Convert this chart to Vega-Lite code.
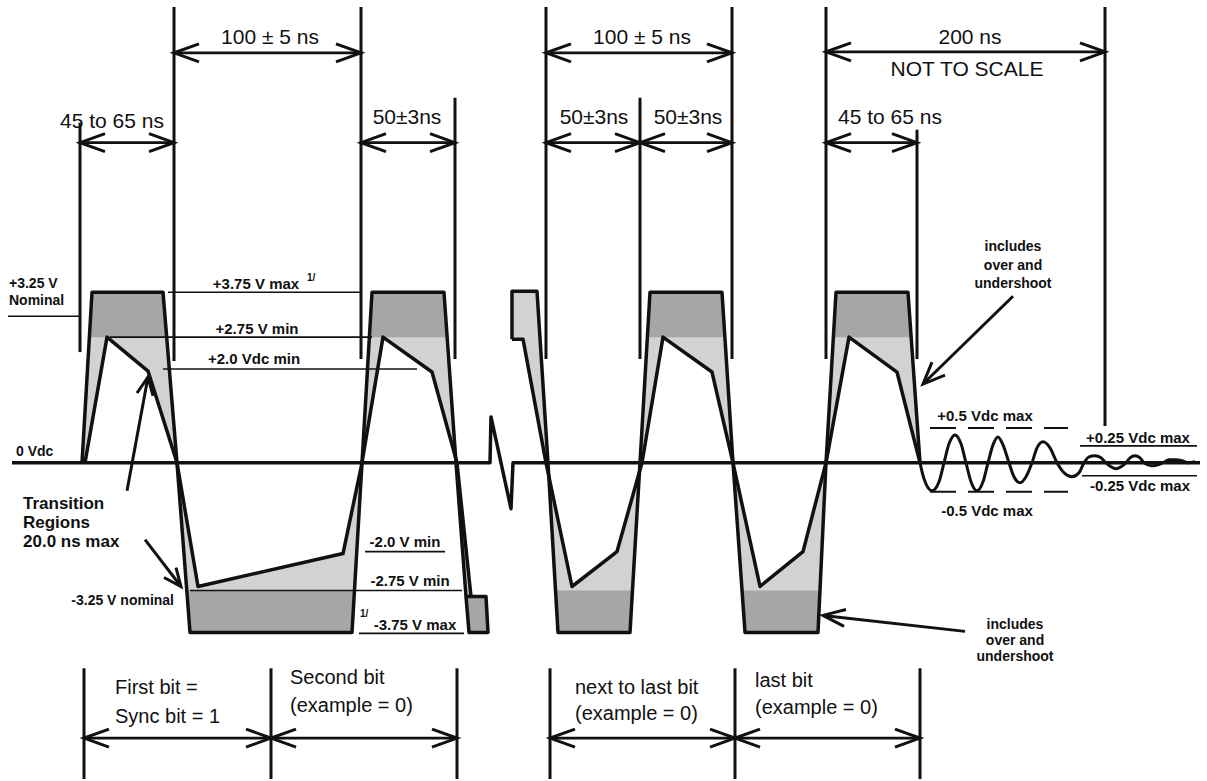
{
"$schema":"https://vega.github.io/schema/vega-lite/v6.json",
"width":1207,"height":781,"padding":0,
"autosize":{"type":"fit","contains":"padding"},
"background":"white",
"config":{"view":{"stroke":null},"text":{"font":"Liberation Sans","color":"#111"}},
"datasets":{
"poly":[
{"id":"L1","o":1,"x":82,"y":464,"tone":"L"},{"id":"L1","o":2,"x":92,"y":293,"tone":"L"},{"id":"L1","o":3,"x":163,"y":293,"tone":"L"},{"id":"L1","o":4,"x":177,"y":464,"tone":"L"},{"id":"L1","o":5,"x":148,"y":372,"tone":"L"},{"id":"L1","o":6,"x":107,"y":338,"tone":"L"},{"id":"L1","o":7,"x":85,"y":464,"tone":"L"},
{"id":"D1","o":1,"x":92,"y":293,"tone":"D"},{"id":"D1","o":2,"x":163,"y":293,"tone":"D"},{"id":"D1","o":3,"x":167,"y":338,"tone":"D"},{"id":"D1","o":4,"x":89,"y":338,"tone":"D"},
{"id":"L2","o":1,"x":177,"y":464,"tone":"L"},{"id":"L2","o":2,"x":190,"y":634,"tone":"L"},{"id":"L2","o":3,"x":352,"y":634,"tone":"L"},{"id":"L2","o":4,"x":362,"y":464,"tone":"L"},{"id":"L2","o":5,"x":343,"y":555,"tone":"L"},{"id":"L2","o":6,"x":198,"y":588,"tone":"L"},
{"id":"D2","o":1,"x":187,"y":592,"tone":"D"},{"id":"D2","o":2,"x":354,"y":592,"tone":"D"},{"id":"D2","o":3,"x":352,"y":634,"tone":"D"},{"id":"D2","o":4,"x":190,"y":634,"tone":"D"},
{"id":"L3","o":1,"x":362,"y":464,"tone":"L"},{"id":"L3","o":2,"x":372,"y":293,"tone":"L"},{"id":"L3","o":3,"x":444,"y":293,"tone":"L"},{"id":"L3","o":4,"x":456,"y":464,"tone":"L"},{"id":"L3","o":5,"x":432,"y":373,"tone":"L"},{"id":"L3","o":6,"x":383,"y":338,"tone":"L"},
{"id":"D3","o":1,"x":372,"y":293,"tone":"D"},{"id":"D3","o":2,"x":444,"y":293,"tone":"D"},{"id":"D3","o":3,"x":447,"y":338,"tone":"D"},{"id":"D3","o":4,"x":369,"y":338,"tone":"D"},
{"id":"LT","o":1,"x":456,"y":464,"tone":"L"},{"id":"LT","o":2,"x":466,"y":598,"tone":"L"},{"id":"LT","o":3,"x":471,"y":598,"tone":"L"},{"id":"LT","o":4,"x":457,"y":464,"tone":"L"},
{"id":"DT","o":1,"x":466,"y":598,"tone":"D"},{"id":"DT","o":2,"x":486,"y":598,"tone":"D"},{"id":"DT","o":3,"x":488,"y":634,"tone":"D"},{"id":"DT","o":4,"x":469,"y":634,"tone":"D"},
{"id":"LS","o":1,"x":512,"y":292,"tone":"L"},{"id":"LS","o":2,"x":537,"y":292,"tone":"L"},{"id":"LS","o":3,"x":548,"y":464,"tone":"L"},{"id":"LS","o":4,"x":546,"y":464,"tone":"L"},{"id":"LS","o":5,"x":523,"y":340,"tone":"L"},{"id":"LS","o":6,"x":512,"y":340,"tone":"L"},
{"id":"L4","o":1,"x":548,"y":464,"tone":"L"},{"id":"L4","o":2,"x":558,"y":634,"tone":"L"},{"id":"L4","o":3,"x":630,"y":634,"tone":"L"},{"id":"L4","o":4,"x":640,"y":464,"tone":"L"},{"id":"L4","o":5,"x":617,"y":553,"tone":"L"},{"id":"L4","o":6,"x":572,"y":588,"tone":"L"},
{"id":"D4","o":1,"x":555,"y":592,"tone":"D"},{"id":"D4","o":2,"x":632,"y":592,"tone":"D"},{"id":"D4","o":3,"x":630,"y":634,"tone":"D"},{"id":"D4","o":4,"x":558,"y":634,"tone":"D"},
{"id":"L5","o":1,"x":640,"y":464,"tone":"L"},{"id":"L5","o":2,"x":650,"y":293,"tone":"L"},{"id":"L5","o":3,"x":722,"y":293,"tone":"L"},{"id":"L5","o":4,"x":733,"y":464,"tone":"L"},{"id":"L5","o":5,"x":712,"y":373,"tone":"L"},{"id":"L5","o":6,"x":663,"y":338,"tone":"L"},
{"id":"D5","o":1,"x":650,"y":293,"tone":"D"},{"id":"D5","o":2,"x":722,"y":293,"tone":"D"},{"id":"D5","o":3,"x":725,"y":338,"tone":"D"},{"id":"D5","o":4,"x":647,"y":338,"tone":"D"},
{"id":"L6","o":1,"x":733,"y":464,"tone":"L"},{"id":"L6","o":2,"x":745,"y":634,"tone":"L"},{"id":"L6","o":3,"x":818,"y":634,"tone":"L"},{"id":"L6","o":4,"x":826,"y":464,"tone":"L"},{"id":"L6","o":5,"x":803,"y":553,"tone":"L"},{"id":"L6","o":6,"x":760,"y":588,"tone":"L"},
{"id":"D6","o":1,"x":742,"y":592,"tone":"D"},{"id":"D6","o":2,"x":820,"y":592,"tone":"D"},{"id":"D6","o":3,"x":818,"y":634,"tone":"D"},{"id":"D6","o":4,"x":745,"y":634,"tone":"D"},
{"id":"L7","o":1,"x":826,"y":464,"tone":"L"},{"id":"L7","o":2,"x":836,"y":293,"tone":"L"},{"id":"L7","o":3,"x":908,"y":293,"tone":"L"},{"id":"L7","o":4,"x":920,"y":464,"tone":"L"},{"id":"L7","o":5,"x":897,"y":373,"tone":"L"},{"id":"L7","o":6,"x":849,"y":338,"tone":"L"},
{"id":"D7","o":1,"x":836,"y":293,"tone":"D"},{"id":"D7","o":2,"x":908,"y":293,"tone":"D"},{"id":"D7","o":3,"x":911,"y":338,"tone":"D"},{"id":"D7","o":4,"x":833,"y":338,"tone":"D"}
],
"wave":[
{"id":"OL","o":1,"x":82,"y":464},{"id":"OL","o":2,"x":92,"y":293},{"id":"OL","o":3,"x":163,"y":293},{"id":"OL","o":4,"x":177,"y":464},{"id":"OL","o":5,"x":190,"y":634},{"id":"OL","o":6,"x":352,"y":634},{"id":"OL","o":7,"x":362,"y":464},{"id":"OL","o":8,"x":372,"y":293},{"id":"OL","o":9,"x":444,"y":293},{"id":"OL","o":10,"x":456,"y":464},{"id":"OL","o":11,"x":466,"y":598},{"id":"OL","o":12,"x":486,"y":598},{"id":"OL","o":13,"x":488,"y":634},{"id":"OL","o":14,"x":469,"y":634},{"id":"OL","o":15,"x":466,"y":598},
{"id":"IL","o":1,"x":85,"y":464},{"id":"IL","o":2,"x":107,"y":338},{"id":"IL","o":3,"x":148,"y":372},{"id":"IL","o":4,"x":177,"y":464},{"id":"IL","o":5,"x":198,"y":588},{"id":"IL","o":6,"x":343,"y":555},{"id":"IL","o":7,"x":362,"y":464},{"id":"IL","o":8,"x":383,"y":338},{"id":"IL","o":9,"x":432,"y":373},{"id":"IL","o":10,"x":457,"y":464},{"id":"IL","o":11,"x":471,"y":598},
{"id":"OR","o":1,"x":512,"y":340},{"id":"OR","o":2,"x":512,"y":292},{"id":"OR","o":3,"x":537,"y":292},{"id":"OR","o":4,"x":548,"y":464},{"id":"OR","o":5,"x":558,"y":634},{"id":"OR","o":6,"x":630,"y":634},{"id":"OR","o":7,"x":640,"y":464},{"id":"OR","o":8,"x":650,"y":293},{"id":"OR","o":9,"x":722,"y":293},{"id":"OR","o":10,"x":733,"y":464},{"id":"OR","o":11,"x":745,"y":634},{"id":"OR","o":12,"x":818,"y":634},{"id":"OR","o":13,"x":826,"y":464},{"id":"OR","o":14,"x":836,"y":293},{"id":"OR","o":15,"x":908,"y":293},{"id":"OR","o":16,"x":920,"y":464},
{"id":"IR","o":1,"x":512,"y":340},{"id":"IR","o":2,"x":523,"y":340},{"id":"IR","o":3,"x":546,"y":464},{"id":"IR","o":4,"x":572,"y":588},{"id":"IR","o":5,"x":617,"y":553},{"id":"IR","o":6,"x":642,"y":464},{"id":"IR","o":7,"x":663,"y":338},{"id":"IR","o":8,"x":712,"y":373},{"id":"IR","o":9,"x":733,"y":464},{"id":"IR","o":10,"x":760,"y":588},{"id":"IR","o":11,"x":803,"y":553},{"id":"IR","o":12,"x":826,"y":464},{"id":"IR","o":13,"x":849,"y":338},{"id":"IR","o":14,"x":897,"y":373},{"id":"IR","o":15,"x":920,"y":464},
{"id":"BL","o":1,"x":12,"y":464},{"id":"BL","o":2,"x":490,"y":464},{"id":"BL","o":3,"x":491,"y":418},{"id":"BL","o":4,"x":511,"y":510},{"id":"BL","o":5,"x":513,"y":464},{"id":"BL","o":6,"x":1200,"y":464}
],
"ring":[
{"o":1,"x":920,"y":464},{"o":2,"x":924,"y":480},{"o":3,"x":932,"y":492},{"o":4,"x":939,"y":483},{"o":5,"x":944,"y":464},{"o":6,"x":949,"y":445},{"o":7,"x":955,"y":436},{"o":8,"x":961,"y":445},{"o":9,"x":966,"y":464},{"o":10,"x":971,"y":483},{"o":11,"x":977,"y":492},{"o":12,"x":983,"y":483},{"o":13,"x":988,"y":464},{"o":14,"x":993,"y":446},{"o":15,"x":998,"y":438},{"o":16,"x":1003,"y":446},{"o":17,"x":1009,"y":464},{"o":18,"x":1014,"y":478},{"o":19,"x":1020,"y":484},{"o":20,"x":1026,"y":478},{"o":21,"x":1032,"y":464},{"o":22,"x":1037,"y":449},{"o":23,"x":1043,"y":443},{"o":24,"x":1050,"y":449},{"o":25,"x":1057,"y":464},{"o":26,"x":1064,"y":474},{"o":27,"x":1072,"y":478},{"o":28,"x":1079,"y":474},{"o":29,"x":1084,"y":464},{"o":30,"x":1089,"y":458},{"o":31,"x":1095,"y":457},{"o":32,"x":1101,"y":459},{"o":33,"x":1106,"y":464},{"o":34,"x":1111,"y":468},{"o":35,"x":1116,"y":470},{"o":36,"x":1121,"y":468},{"o":37,"x":1126,"y":464},{"o":38,"x":1130,"y":459},{"o":39,"x":1135,"y":457},{"o":40,"x":1140,"y":459},{"o":41,"x":1144,"y":464},{"o":42,"x":1148,"y":466},{"o":43,"x":1153,"y":467},{"o":44,"x":1158,"y":466},{"o":45,"x":1163,"y":464},{"o":46,"x":1169,"y":461},{"o":47,"x":1176,"y":461},{"o":48,"x":1182,"y":462},{"o":49,"x":1188,"y":464},{"o":50,"x":1195,"y":463}
],
"ann":[
{"id":"As","o":1,"x":127,"y":492},{"id":"As","o":2,"x":148,"y":378},
{"id":"Ah","o":1,"x":137,"y":394},{"id":"Ah","o":2,"x":148,"y":378},{"id":"Ah","o":3,"x":153,"y":397},
{"id":"Bs","o":1,"x":145,"y":541},{"id":"Bs","o":2,"x":181,"y":588},
{"id":"Bh","o":1,"x":176,"y":569},{"id":"Bh","o":2,"x":181,"y":588},{"id":"Bh","o":3,"x":164,"y":579},
{"id":"Cs","o":1,"x":1013,"y":297},{"id":"Cs","o":2,"x":923,"y":385},
{"id":"Ch","o":1,"x":945,"y":376},{"id":"Ch","o":2,"x":923,"y":385},{"id":"Ch","o":3,"x":932,"y":363},
{"id":"Ds","o":1,"x":965,"y":633},{"id":"Ds","o":2,"x":823,"y":617},
{"id":"Dh","o":1,"x":846,"y":611},{"id":"Dh","o":2,"x":823,"y":617},{"id":"Dh","o":3,"x":844,"y":628}
],
"ext":[
{"x":80,"y":123,"y2":353},{"x":174,"y":7,"y2":362},{"x":361,"y":7,"y2":360},{"x":455,"y":98,"y2":360},{"x":546,"y":7,"y2":360},{"x":640,"y":98,"y2":360},{"x":732,"y":7,"y2":360},{"x":826,"y":7,"y2":360},{"x":917,"y":130,"y2":360},{"x":1105,"y":7,"y2":427},
{"x":84,"y":670,"y2":781},{"x":271,"y":670,"y2":781},{"x":457,"y":670,"y2":781},{"x":550,"y":670,"y2":781},{"x":735,"y":670,"y2":781},{"x":920,"y":670,"y2":781}
],
"lvl":[
{"x":8,"x2":80,"y":317,"k":"s"},{"x":168,"x2":362,"y":293,"k":"s"},{"x":110,"x2":372,"y":338,"k":"s"},{"x":163,"x2":417,"y":370,"k":"s"},{"x":365,"x2":445,"y":553,"k":"s"},{"x":190,"x2":462,"y":592,"k":"s"},{"x":359,"x2":464,"y":635,"k":"s"},{"x":1080,"x2":1197,"y":447,"k":"s"},{"x":1082,"x2":1197,"y":477,"k":"s"},
{"x":930,"x2":1068,"y":429,"k":"d"},{"x":930,"x2":1068,"y":493,"k":"d"}
],
"dim":[
{"x":80,"x2":174,"y":143},{"x":174,"x2":361,"y":53},{"x":361,"x2":455,"y":143},{"x":546,"x2":732,"y":53},{"x":546,"x2":640,"y":143},{"x":640,"x2":732,"y":143},{"x":826,"x2":1105,"y":52},{"x":826,"x2":917,"y":143},
{"x":84,"x2":271,"y":740},{"x":271,"x2":457,"y":740},{"x":550,"x2":735,"y":740},{"x":735,"x2":920,"y":740}
],
"txt":[
{"t":"100 ± 5 ns","x":270,"y":38,"k":"dim"},{"t":"45 to 65 ns","x":112,"y":122,"k":"dim"},{"t":"50±3ns","x":407,"y":118,"k":"dim"},{"t":"100 ± 5 ns","x":642,"y":38,"k":"dim"},{"t":"50±3ns","x":594,"y":118,"k":"dim"},{"t":"50±3ns","x":688,"y":118,"k":"dim"},{"t":"200  ns","x":970,"y":38,"k":"dim"},{"t":"NOT TO SCALE","x":967,"y":70,"k":"dim"},{"t":"45 to 65 ns","x":890,"y":118,"k":"dim"},
{"t":"+3.75 V max","x":256,"y":285,"k":"lvl"},{"t":"+2.75 V min","x":257,"y":330,"k":"lvl"},{"t":"+2.0 Vdc min","x":254,"y":360,"k":"lvl"},{"t":"-2.0 V min","x":405,"y":543,"k":"lvl"},{"t":"-2.75 V min","x":410,"y":582,"k":"lvl"},{"t":"-3.75 V max","x":415,"y":627,"k":"lvl"},{"t":"+0.5 Vdc max","x":985,"y":417,"k":"lvl"},{"t":"-0.5 Vdc max","x":987,"y":512,"k":"lvl"},{"t":"+0.25 Vdc max","x":1138,"y":439,"k":"lvl"},{"t":"-0.25 Vdc max","x":1140,"y":487,"k":"lvl"},
{"t":"+3.25 V","x":9,"y":285,"k":"lft"},{"t":"Nominal","x":9,"y":302,"k":"lft"},{"t":"0 Vdc","x":16,"y":453,"k":"lft"},
{"t":"-3.25 V nominal","x":174,"y":603,"k":"rgt"},
{"t":"Transition","x":23,"y":505,"k":"trn"},{"t":"Regions","x":23,"y":524,"k":"trn"},{"t":"20.0 ns max","x":23,"y":543,"k":"trn"},
{"t":"includes","x":1013,"y":248,"k":"note"},{"t":"over and","x":1013,"y":267,"k":"note"},{"t":"undershoot","x":1013,"y":285,"k":"note"},{"t":"includes","x":1015,"y":627,"k":"note"},{"t":"over and","x":1015,"y":643,"k":"note"},{"t":"undershoot","x":1015,"y":659,"k":"note"},
{"t":"1/","x":307,"y":279,"k":"sup"},{"t":"1/","x":360,"y":616,"k":"sup"},
{"t":"First  bit  =","x":115,"y":690,"k":"bit"},{"t":"Sync  bit  =  1","x":115,"y":719,"k":"bit"},{"t":"Second bit","x":290,"y":680,"k":"bit"},{"t":"(example = 0)","x":290,"y":708,"k":"bit"},{"t":"next to last bit","x":575,"y":690,"k":"bit"},{"t":"(example = 0)","x":575,"y":716,"k":"bit"},{"t":"last  bit","x":755,"y":683,"k":"bit"},{"t":"(example = 0)","x":755,"y":710,"k":"bit"}
]
},
"encoding":{
"x":{"field":"x","type":"quantitative","scale":{"domain":[0,1207],"nice":false,"zero":false},"axis":null},
"y":{"field":"y","type":"quantitative","scale":{"domain":[0,781],"nice":false,"zero":false,"reverse":true},"axis":null}
},
"layer":[
{"data":{"name":"poly"},"transform":[{"filter":"datum.tone==='L'"}],"mark":{"type":"line","fill":"#d2d2d2","strokeOpacity":0,"strokeWidth":0},"encoding":{"detail":{"field":"id"},"order":{"field":"o","type":"quantitative"}}},
{"data":{"name":"poly"},"transform":[{"filter":"datum.tone==='D'"}],"mark":{"type":"line","fill":"#a6a6a6","strokeOpacity":0,"strokeWidth":0},"encoding":{"detail":{"field":"id"},"order":{"field":"o","type":"quantitative"}}},
{"data":{"name":"ext"},"mark":{"type":"rule","color":"#111","strokeWidth":3},"encoding":{"y2":{"field":"y2"}}},
{"data":{"name":"lvl"},"transform":[{"filter":"datum.k==='s'"}],"mark":{"type":"rule","color":"#111","strokeWidth":1.6},"encoding":{"x2":{"field":"x2"}}},
{"data":{"name":"lvl"},"transform":[{"filter":"datum.k==='d'"}],"mark":{"type":"rule","color":"#111","strokeWidth":2,"strokeDash":[26,12]},"encoding":{"x2":{"field":"x2"}}},
{"data":{"name":"dim"},"mark":{"type":"rule","color":"#111","strokeWidth":2.8},"encoding":{"x2":{"field":"x2"}}},
{"data":{"name":"dim"},"mark":{"type":"point","shape":"M2.5,-0.9L0,0L2.5,0.9","size":400,"filled":false,"color":"#111","strokeWidth":3,"opacity":1},"encoding":{}},
{"data":{"name":"dim"},"mark":{"type":"point","shape":"M-2.5,-0.9L0,0L-2.5,0.9","size":400,"filled":false,"color":"#111","strokeWidth":3,"opacity":1},"encoding":{"x":{"field":"x2","type":"quantitative"}}},
{"data":{"name":"wave"},"mark":{"type":"line","color":"#111","strokeWidth":3.5,"strokeJoin":"round"},"encoding":{"detail":{"field":"id"},"order":{"field":"o","type":"quantitative"}}},
{"data":{"name":"ring"},"mark":{"type":"line","color":"#111","strokeWidth":3,"interpolate":"monotone"},"encoding":{"order":{"field":"o","type":"quantitative"}}},
{"data":{"name":"ann"},"mark":{"type":"line","color":"#111","strokeWidth":3,"strokeJoin":"miter"},"encoding":{"detail":{"field":"id"},"order":{"field":"o","type":"quantitative"}}},
{"data":{"name":"txt"},"transform":[{"filter":"datum.k==='dim'"}],"mark":{"type":"text","fontSize":21,"align":"center","baseline":"middle"},"encoding":{"text":{"field":"t"}}},
{"data":{"name":"txt"},"transform":[{"filter":"datum.k==='lvl'"}],"mark":{"type":"text","fontSize":15,"fontWeight":"bold","align":"center","baseline":"middle"},"encoding":{"text":{"field":"t"}}},
{"data":{"name":"txt"},"transform":[{"filter":"datum.k==='lft'"}],"mark":{"type":"text","fontSize":14,"fontWeight":"bold","align":"left","baseline":"middle"},"encoding":{"text":{"field":"t"}}},
{"data":{"name":"txt"},"transform":[{"filter":"datum.k==='rgt'"}],"mark":{"type":"text","fontSize":14,"fontWeight":"bold","align":"right","baseline":"middle"},"encoding":{"text":{"field":"t"}}},
{"data":{"name":"txt"},"transform":[{"filter":"datum.k==='trn'"}],"mark":{"type":"text","fontSize":17,"fontWeight":"bold","align":"left","baseline":"middle"},"encoding":{"text":{"field":"t"}}},
{"data":{"name":"txt"},"transform":[{"filter":"datum.k==='note'"}],"mark":{"type":"text","fontSize":14,"fontWeight":"bold","align":"center","baseline":"middle"},"encoding":{"text":{"field":"t"}}},
{"data":{"name":"txt"},"transform":[{"filter":"datum.k==='sup'"}],"mark":{"type":"text","fontSize":10,"fontWeight":"bold","align":"left","baseline":"middle"},"encoding":{"text":{"field":"t"}}},
{"data":{"name":"txt"},"transform":[{"filter":"datum.k==='bit'"}],"mark":{"type":"text","fontSize":20,"align":"left","baseline":"middle"},"encoding":{"text":{"field":"t"}}}
]
}
